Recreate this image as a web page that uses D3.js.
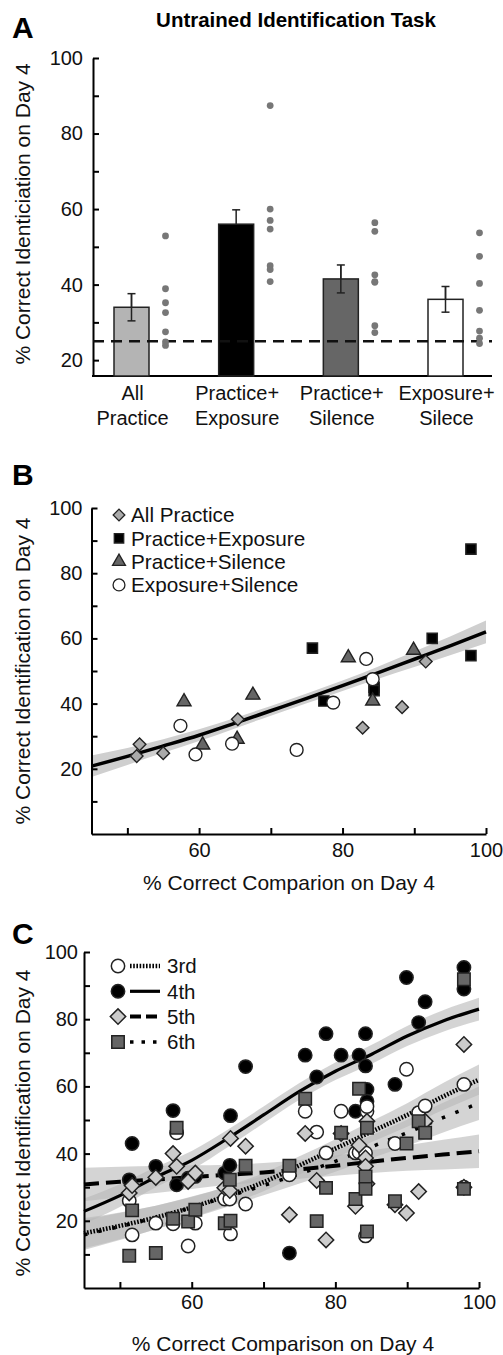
<!DOCTYPE html>
<html>
<head>
<meta charset="utf-8">
<script src="https://cdn.jsdelivr.net/npm/d3@7"></script>
<style>
  body { margin: 0; background: #fff; }
  svg { font-family: "Liberation Sans", Arial, Helvetica, sans-serif; }
</style>
</head>
<body>
<svg id="fig" width="503" height="1355"></svg>
<script>
// ---- data ----
const groups = ["All Practice", "Practice+Exposure", "Practice+Silence", "Exposure+Silence"];
const groupLabels = [["All", "Practice"], ["Practice+", "Exposure"], ["Practice+", "Silence"], ["Exposure+", "Silece"]];
const barMeans = [34.0, 56.0, 41.5, 36.1];
const barErr = [3.6, 3.8, 3.7, 3.4];
const chanceLevel = 25;

// panel B: comparison (x) and identification (y) per subject, by group
const allPracticeX = [51.3, 51.7, 55.0, 65.4, 82.8, 88.3, 91.6];
const allPracticeY = [23.9, 27.5, 24.8, 35.2, 32.6, 38.9, 52.9];
const practiceExposureX = [97.9, 75.8, 92.5, 97.9, 77.4, 84.4, 84.4];
const practiceExposureY = [87.4, 57.0, 60.0, 54.7, 40.8, 45.0, 44.0];
const practiceSilenceX = [57.9, 67.5, 60.5, 65.3, 80.8, 89.9, 84.2];
const practiceSilenceY = [40.6, 42.6, 27.3, 29.1, 54.1, 56.4, 40.8];
const exposureSilenceX = [57.4, 59.5, 64.6, 83.3, 84.2, 78.7, 73.6];
const exposureSilenceY = [33.2, 24.4, 27.7, 53.7, 47.5, 40.3, 25.8];

const fitX = [45, 50, 55, 60, 65, 70, 75, 80, 85, 90, 95, 100];
const fitB = [20.8, 23.8, 27.0, 30.3, 34.0, 37.8, 41.6, 45.5, 49.5, 53.6, 57.7, 62.0];
const fitBHalf = [3.3, 2.6, 2.1, 1.8, 1.6, 1.5, 1.5, 1.6, 1.9, 2.4, 2.9, 3.5];

// panel C: identification by tone position, per subject
const compC = [51.3, 51.7, 55.0, 57.4, 57.9, 59.5, 60.5, 64.6, 65.3, 65.4, 67.5, 73.6, 75.8, 77.4,
               78.7, 80.8, 82.8, 83.3, 84.2, 84.2, 84.4, 84.4, 88.3, 89.9, 91.6, 92.5, 97.9, 97.9];
const tone3rd = [26.0, 15.8, 19.3, 19.1, 46.2, 12.5, 19.3, 26.5, 26.5, 16.1, 25.0, 33.7, 52.6, 46.4,
                 40.2, 52.6, 40.2, 40.4, 40.2, 15.5, 52.6, 54.0, 43.0, 65.1, 52.2, 54.2, 60.6, 30.0];
const tone4th = [32.2, 43.0, 36.2, 52.8, 30.7, 32.7, 33.2, 34.2, 36.5, 51.3, 65.9, 10.4, 69.3, 62.8,
                 75.7, 69.3, 52.6, 69.3, 75.7, 66.1, 59.1, 55.6, 60.6, 92.4, 79.0, 85.2, 95.4, 89.0];
const tone5th = [28.3, 30.5, 32.9, 40.0, 36.2, 31.7, 34.2, 29.8, 29.0, 44.5, 42.2, 21.8, 46.0, 32.0,
                 14.3, 46.0, 24.3, 42.5, 38.7, 36.2, 49.6, 31.0, 24.8, 22.3, 28.7, 49.6, 72.5, 30.0];
const tone6th = [9.6, 23.1, 10.4, 20.6, 47.7, 19.8, 23.3, 19.3, 32.2, 20.0, 36.4, 36.4, 56.3, 19.9,
                 29.8, 46.2, 26.5, 59.3, 33.2, 29.5, 47.7, 16.8, 25.8, 43.0, 49.6, 46.2, 91.9, 29.5];

const fit3rd = [16.3, 18.5, 21.0, 24.0, 27.5, 31.5, 36.5, 41.5, 46.5, 51.5, 57.0, 62.0];
const fit4th = [22.8, 27.5, 33.0, 38.0, 44.5, 51.5, 58.5, 64.5, 69.5, 75.0, 79.5, 83.0];
const fit5th = [30.8, 31.6, 32.3, 33.0, 33.7, 34.4, 35.3, 36.4, 37.6, 38.7, 39.7, 40.7];
const fit6th = [15.8, 18.3, 21.0, 24.0, 27.2, 30.5, 34.0, 37.7, 42.0, 46.2, 50.7, 55.0];
const half3rd = [4.5, 4.0, 3.5, 3.1, 2.8, 2.7, 2.7, 2.8, 3.1, 3.5, 4.0, 4.5];
const half4th = [3.8, 3.4, 3.0, 2.8, 2.6, 2.5, 2.5, 2.6, 2.8, 3.0, 3.2, 3.4];
const half5th = [5.0, 4.5, 4.0, 3.5, 3.0, 2.8, 2.8, 3.0, 3.4, 3.8, 4.4, 5.0];
const half6th = [4.5, 4.0, 3.5, 3.2, 3.0, 2.9, 2.9, 3.1, 3.4, 3.9, 4.4, 5.0];

// ---- drawing ----
const svg = d3.select("#fig");
const barFill = ["#b4b4b4", "#000", "#666", "#fff"];

function styleAxis(g) {
  g.select(".domain").attr("stroke", "#000").attr("stroke-width", 2);
  g.selectAll(".tick line").attr("stroke", "#000").attr("stroke-width", 2);
  g.selectAll(".tick text").attr("font-size", 20).attr("fill", "#111");
}

function panelLetter(t, y) {
  svg.append("text").attr("x", 12).attr("y", y).attr("font-size", 30)
    .attr("font-weight", "bold").text(t);
}

function yTitle(t, cy) {
  svg.append("text").attr("transform", `translate(22,${cy}) rotate(-90)`)
    .attr("text-anchor", "middle").attr("dominant-baseline", "central")
    .attr("font-size", 21).attr("fill", "#111").text(t);
}

function symbolMark(type, size, rotate) {
  return (sel, x, y) => sel.attr("d", d3.symbol().type(type).size(size)())
    .attr("transform", d => `translate(${x(d)},${y(d)})` + (rotate ? " rotate(45)" : ""));
}

// ---------- Panel A ----------
svg.append("text").attr("x", 296).attr("y", 27).attr("text-anchor", "middle")
  .attr("font-size", 20.5).attr("font-weight", "bold").text("Untrained Identification Task");
panelLetter("A", 38);

const yA = d3.scaleLinear().domain([15.8, 100]).range([376, 58]);
const xA = d3.scalePoint().domain(groups).range([131.5, 445.5]);

svg.append("g").attr("transform", "translate(93,0)")
  .call(d3.axisLeft(yA).tickValues(d3.range(20, 101, 10)).tickSizeInner(-6).tickSizeOuter(0)
    .tickPadding(10).tickFormat(d => d % 20 === 0 ? d : ""))
  .call(styleAxis);
svg.append("line").attr("x1", 92).attr("x2", 492).attr("y1", 376).attr("y2", 376)
  .attr("stroke", "#000").attr("stroke-width", 2);

svg.append("g").selectAll("rect").data(groups).join("rect")
  .attr("x", d => xA(d) - 17.5).attr("width", 35)
  .attr("y", (d, i) => yA(barMeans[i])).attr("height", (d, i) => 376 - yA(barMeans[i]))
  .attr("fill", (d, i) => barFill[i]).attr("stroke", "#222").attr("stroke-width", 1.5);

const err = svg.append("g").attr("stroke", "#222").attr("stroke-width", 1.5);
groups.forEach((g, i) => {
  const cx = xA(g), lo = yA(barMeans[i] - barErr[i]), hi = yA(barMeans[i] + barErr[i]);
  if (i !== 1) err.append("line").attr("x1", cx).attr("x2", cx).attr("y1", lo).attr("y2", hi);
  err.append("line").attr("x1", cx).attr("x2", cx).attr("y1", yA(barMeans[i])).attr("y2", hi);
  err.append("line").attr("x1", cx - 4).attr("x2", cx + 4).attr("y1", hi).attr("y2", hi);
  if (i !== 1) err.append("line").attr("x1", cx - 4).attr("x2", cx + 4).attr("y1", lo).attr("y2", lo);
});

svg.append("line").attr("x1", 93).attr("x2", 492).attr("y1", yA(chanceLevel)).attr("y2", yA(chanceLevel))
  .attr("stroke", "#111").attr("stroke-width", 2.4).attr("stroke-dasharray", "11,7");

const groupY = [allPracticeY, practiceExposureY, practiceSilenceY, exposureSilenceY];
groups.forEach((g, i) => {
  svg.append("g").selectAll("circle").data(groupY[i]).join("circle")
    .attr("cx", xA(g) + 34).attr("cy", d => yA(d)).attr("r", 3.4).attr("fill", "#777");
});

const labA = svg.append("g").attr("font-size", 20).attr("fill", "#111").attr("text-anchor", "middle");
groups.forEach((g, i) => {
  const t = labA.append("text").attr("x", xA(g) + 1);
  t.append("tspan").attr("x", xA(g) + 1).attr("y", 400).text(groupLabels[i][0]);
  t.append("tspan").attr("x", xA(g) + 1).attr("y", 425).text(groupLabels[i][1]);
});
yTitle("% Correct Identiciation on Day 4", 214);

// ---------- Panel B ----------
panelLetter("B", 485);
const xB = d3.scaleLinear().domain([45, 100]).range([91.5, 486]);
const yB = d3.scaleLinear().domain([0, 100]).range([834, 508]);

const idx = d3.range(fitX.length);
svg.append("path").datum(idx)
  .attr("d", d3.area().curve(d3.curveMonotoneX).x(i => xB(fitX[i]))
    .y0(i => yB(fitB[i] - fitBHalf[i])).y1(i => yB(fitB[i] + fitBHalf[i])))
  .attr("fill", "#cfcfcf");
svg.append("path").datum(idx)
  .attr("d", d3.line().curve(d3.curveMonotoneX).x(i => xB(fitX[i])).y(i => yB(fitB[i])))
  .attr("fill", "none").attr("stroke", "#000").attr("stroke-width", 3.5);

svg.append("g").attr("transform", "translate(91.5,0)")
  .call(d3.axisLeft(yB).tickValues(d3.range(10, 101, 10)).tickSizeInner(-6).tickSizeOuter(0)
    .tickPadding(9).tickFormat(d => d % 20 === 0 ? d : ""))
  .call(styleAxis);
svg.append("g").attr("transform", "translate(0,834)")
  .call(d3.axisBottom(xB).tickValues(d3.range(50, 101, 10)).tickSizeInner(-6).tickSizeOuter(0)
    .tickPadding(9).tickFormat(d => d % 20 === 0 ? d : ""))
  .call(styleAxis);

const bSeries = [
  { x: allPracticeX, y: allPracticeY, type: d3.symbolSquare, size: 80, rot: true, fill: "#aaa" },
  { x: practiceExposureX, y: practiceExposureY, type: d3.symbolSquare, size: 105, rot: false, fill: "#000" },
  { x: practiceSilenceX, y: practiceSilenceY, type: d3.symbolTriangle, size: 85, rot: false, fill: "#666" },
  { x: exposureSilenceX, y: exposureSilenceY, type: d3.symbolCircle, size: 130, rot: false, fill: "#fff" }
];
bSeries.forEach(s => {
  svg.append("g").selectAll("path").data(d3.range(s.x.length)).join("path")
    .call(symbolMark(s.type, s.size, s.rot), i => xB(s.x[i]), i => yB(s.y[i]))
    .attr("fill", s.fill).attr("stroke", "#222").attr("stroke-width", 1.4);
});

const legB = svg.append("g");
groups.forEach((g, i) => {
  const s = bSeries[i], y = 515 + i * 23.3;
  legB.append("path").attr("d", d3.symbol().type(s.type).size(s.size * 0.85)())
    .attr("transform", `translate(119,${y})` + (s.rot ? " rotate(45)" : ""))
    .attr("fill", s.fill).attr("stroke", "#222").attr("stroke-width", 1.3);
  legB.append("text").attr("x", 131).attr("y", y).attr("dy", "0.36em")
    .attr("font-size", 20.7).attr("fill", "#111").text(g);
});
svg.append("text").attr("x", 289).attr("y", 890).attr("text-anchor", "middle")
  .attr("font-size", 21).attr("fill", "#111").text("% Correct Comparion on Day 4");
yTitle("% Correct Identification on Day 4", 671);

// ---------- Panel C ----------
panelLetter("C", 944);
const xC = d3.scaleLinear().domain([45, 100]).range([84, 479]);
const yC = d3.scaleLinear().domain([0, 100]).range([1288, 952]);

const cFits = [
  { fit: fit3rd, half: half3rd, dash: "1.6,1.6", w: 4.5, ldash: "1.6,1.6" },
  { fit: fit4th, half: half4th, dash: null, w: 3.2, ldash: null },
  { fit: fit5th, half: half5th, dash: "15,7", w: 4, ldash: "11,5" },
  { fit: fit6th, half: half6th, dash: "3.5,11", w: 3.5, ldash: "3.5,8" }
];
cFits.forEach(f => {
  svg.append("path").datum(idx)
    .attr("d", d3.area().curve(d3.curveMonotoneX).x(i => xC(fitX[i]))
      .y0(i => yC(f.fit[i] - f.half[i])).y1(i => yC(f.fit[i] + f.half[i])))
    .attr("fill", "#b8b8b8").attr("fill-opacity", 0.6);
});
cFits.forEach(f => {
  svg.append("path").datum(idx)
    .attr("d", d3.line().curve(d3.curveMonotoneX).x(i => xC(fitX[i])).y(i => yC(f.fit[i])))
    .attr("fill", "none").attr("stroke", "#000").attr("stroke-width", f.w)
    .attr("stroke-dasharray", f.dash);
});

svg.append("g").attr("transform", "translate(84,0)")
  .call(d3.axisLeft(yC).tickValues(d3.range(10, 101, 10)).tickSizeInner(-6).tickSizeOuter(0)
    .tickPadding(6).tickFormat(d => d % 20 === 0 ? d : ""))
  .call(styleAxis);
svg.append("g").attr("transform", "translate(0,1288)")
  .call(d3.axisBottom(xC).tickValues(d3.range(50, 101, 10)).tickSizeInner(-6).tickSizeOuter(0)
    .tickPadding(7).tickFormat(d => d % 20 === 0 ? d : ""))
  .call(styleAxis);

const cSeries = [
  { y: tone4th, name: "4th", type: d3.symbolCircle, size: 140, rot: false, fill: "#000", order: 1 },
  { y: tone3rd, name: "3rd", type: d3.symbolCircle, size: 140, rot: false, fill: "#fff", order: 0 },
  { y: tone5th, name: "5th", type: d3.symbolSquare, size: 118, rot: true, fill: "#ccc", order: 2 },
  { y: tone6th, name: "6th", type: d3.symbolSquare, size: 155, rot: false, fill: "#666", order: 3 }
];
cSeries.forEach(s => {
  svg.append("g").selectAll("path").data(d3.range(compC.length)).join("path")
    .call(symbolMark(s.type, s.size, s.rot), i => xC(compC[i]), i => yC(s.y[i]))
    .attr("fill", s.fill).attr("stroke", "#222").attr("stroke-width", 1.5);
});

const legC = svg.append("g");
cSeries.slice().sort((a, b) => a.order - b.order).forEach((s, i) => {
  const y = 966 + i * 25.3, f = cFits[s.order];
  legC.append("path").attr("d", d3.symbol().type(s.type).size(s.size)())
    .attr("transform", `translate(118,${y})` + (s.rot ? " rotate(45)" : ""))
    .attr("fill", s.fill).attr("stroke", "#222").attr("stroke-width", 1.5);
  legC.append("line").attr("x1", 130).attr("x2", 160).attr("y1", y).attr("y2", y)
    .attr("stroke", "#000").attr("stroke-width", f.w).attr("stroke-dasharray", f.ldash);
  legC.append("text").attr("x", 167).attr("y", y).attr("dy", "0.36em")
    .attr("font-size", 20.5).attr("fill", "#111").text(s.name);
});
svg.append("text").attr("x", 283).attr("y", 1351).attr("text-anchor", "middle")
  .attr("font-size", 21).attr("fill", "#111").text("% Correct Comparison on Day 4");
yTitle("% Correct Identification on Day 4", 1123);
</script>
</body>
</html>
